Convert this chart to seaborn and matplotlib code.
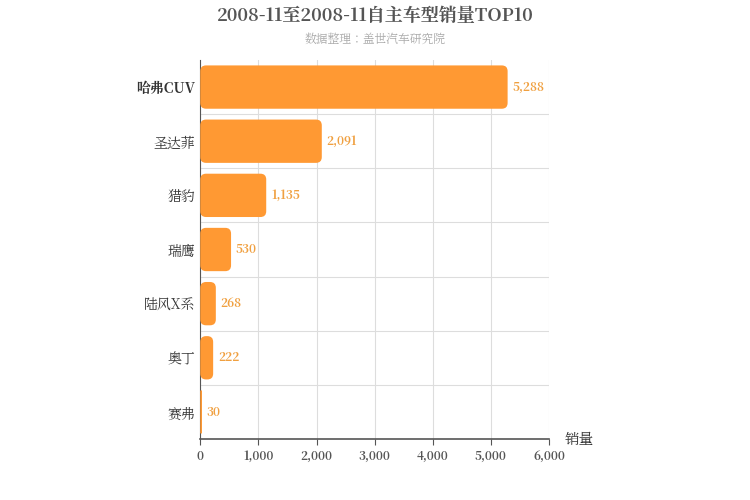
import matplotlib
matplotlib.use("Agg")
import matplotlib.pyplot as plt
from matplotlib import font_manager as fm
import seaborn as sns
import pandas as pd
from matplotlib.patches import FancyBboxPatch

# make sure a CJK font is registered and used
cjk_name = None
for f in fm.findSystemFonts():
    if "CJK" in f and ("SC" in f or "Regular" in f or f.endswith(".ttc")):
        try:
            fm.fontManager.addfont(f)
            cjk_name = fm.FontProperties(fname=f).get_name()
            if "SC" in cjk_name:
                break
        except Exception:
            pass
plt.rcParams["font.family"] = [n for n in [cjk_name, "Noto Sans CJK SC", "Noto Sans CJK JP", "DejaVu Sans"] if n]

models = ["哈弗CUV", "圣达菲", "猎豹", "瑞鹰", "陆风X系", "奥丁", "赛弗"]
sales = [5288, 2091, 1135, 530, 268, 222, 30]
xticks = [0, 1000, 2000, 3000, 4000, 5000, 6000]

df = pd.DataFrame({"model": models, "sales": sales})
color = "#FF9933"

fig = plt.figure(figsize=(7.5, 5), dpi=100)
ax = fig.add_axes([0.267, 0.122, 0.465, 0.758])
sns.barplot(data=df, x="sales", y="model", color=color, width=0.8, ax=ax, zorder=3)

ax.set_xlim(0, 6000)
ax.set_ylim(len(models) - 0.5, -0.5)
aspect = (7 / 379) / (6000 / 349)
for p in list(ax.patches):
    x, y, w, h = p.get_x(), p.get_y(), p.get_width(), p.get_height()
    p.remove()
    r = min(100, w / 2)
    ax.add_patch(FancyBboxPatch((x, y), w, h, boxstyle=f"round,pad=0,rounding_size={r}",
                                mutation_aspect=aspect, fc=color, ec="none", zorder=3))
for i, v in enumerate(sales):
    ax.text(v + 80, i, f"{v:,}", va="center", ha="left", fontsize=8.5,
            color="#F0A040", fontweight="bold", zorder=4)

ax.set_xticks(xticks)
ax.set_xticklabels([f"{t:,}" for t in xticks], fontsize=8.5, color="#555555", fontweight="bold")
ax.tick_params(axis="y", length=0, labelsize=10, labelcolor="#333333")
ax.tick_params(axis="x", length=4, color="#555555")
ax.set_yticks(range(len(models)))
ax.set_yticklabels(models)
ax.get_yticklabels()[0].set_fontweight("bold")
ax.set_ylabel("")
ax.set_xlabel("")
ax.grid(axis="x", color="#DDDDDD", lw=0.8, zorder=0)
for b in range(1, len(models)):
    ax.axhline(b - 0.5, color="#DDDDDD", lw=0.8, zorder=0)
for s in ["top", "right"]:
    ax.spines[s].set_visible(False)
ax.spines["left"].set_color("#555555")
ax.spines["bottom"].set_color("#555555")
ax.spines["bottom"].set_linewidth(1.2)

fig.text(565 / 750, 1 - 440 / 500, "销量", fontsize=10.5, color="#333333", va="center")
fig.text(0.5, 1 - 16 / 500, "2008-11至2008-11自主车型销量TOP10", ha="center", va="center",
         fontsize=13, fontweight="bold", color="#555555")
fig.text(0.5, 1 - 40 / 500, "数据整理：盖世汽车研究院", ha="center", va="center",
         fontsize=8.5, color="#AAAAAA")

fig.savefig("out.png", dpi=100)
